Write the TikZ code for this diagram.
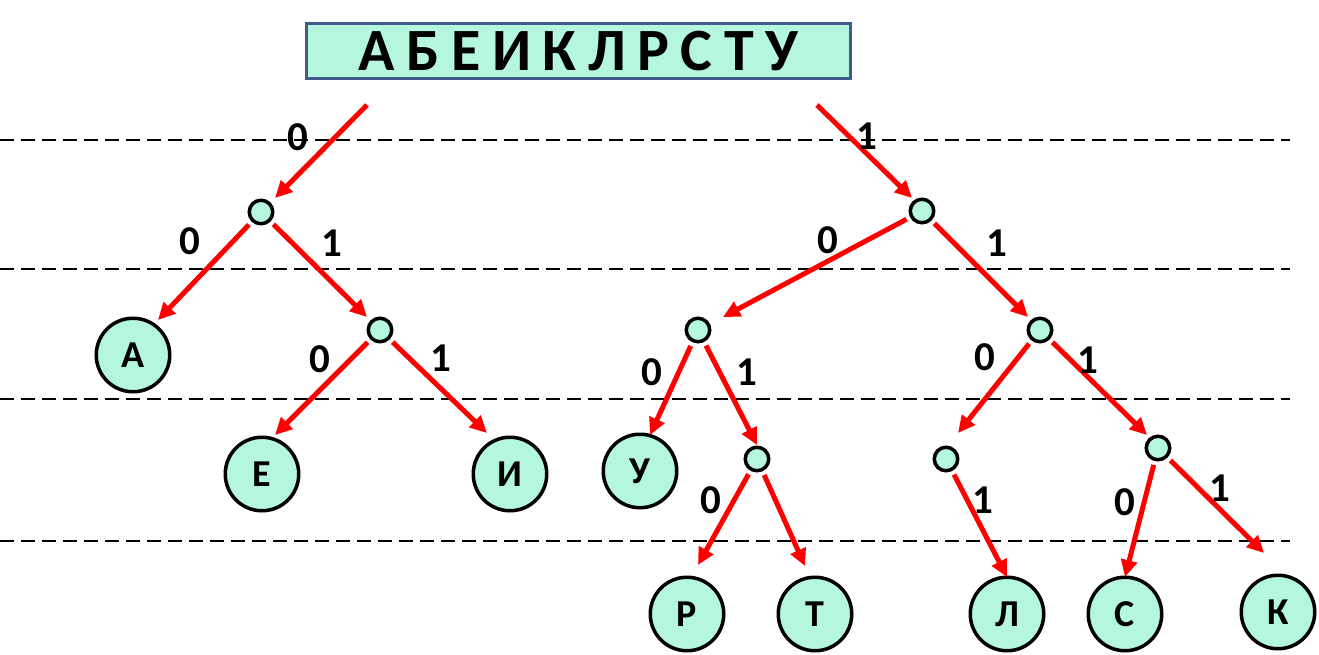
\documentclass[tikz,border=0pt]{standalone}
\usepackage{fontspec}
\newfontfamily\cf{Carlito}
\usetikzlibrary{arrows.meta,calc}
\definecolor{mint}{HTML}{B4F7DD}
\definecolor{frame}{HTML}{3E5C8C}
\definecolor{arrred}{HTML}{FF0000}
\newcommand{\tgap}{\hspace{11.5pt}}
\tikzset{
  guide/.style={draw=black,line width=2.2pt,dash pattern=on 14pt off 7pt},
  arr/.style={draw=arrred,line width=5pt,-{Triangle[length=17pt,width=16pt]}},
  fromnode/.style={shorten <=4pt},
  inner/.style={circle,draw=black,fill=mint,line width=3.5pt,minimum size=23.5pt,inner sep=0pt},
  leaf/.style={circle,draw=black,fill=mint,line width=3.5pt,minimum size=73.5pt,inner sep=0pt,font=\cf\bfseries\fontsize{38}{40}\selectfont},
  lbl/.style={font=\cf\bfseries\fontsize{41}{43}\selectfont,inner sep=0pt},
  titlebox/.style={draw=frame,fill=mint,line width=3.8pt,minimum width=544pt,minimum height=55pt,inner sep=0pt,font=\cf\bfseries\fontsize{60}{62}\selectfont}
}
\begin{document}
\begin{tikzpicture}[x=1pt,y=-1pt]
\useasboundingbox (0,0) rectangle (1319,655);
% guide lines
\draw[guide] (0,140) -- (1290,140);
\draw[guide] (0,269) -- (1290,269);
\draw[guide] (0,399) -- (1290,399);
\draw[guide] (0,541) -- (1290,541);
% title
\node[titlebox] (title) at (578.5,51) {А\tgap Б\tgap Е\tgap И\tgap К\tgap Л\tgap Р\tgap С\tgap Т\tgap У};
% internal nodes
\node[inner] (n0) at (261,212) {};
\node[inner] (n1) at (380,330) {};
\node[inner] (r) at (922,211) {};
\node[inner] (r0) at (698,330) {};
\node[inner] (r1) at (1040,330) {};
\node[inner] (r01) at (757,459) {};
\node[inner] (r10) at (946,459) {};
\node[inner] (r11) at (1158,448) {};
% leaves
\node[leaf] (A) at (133,355) {А};
\node[leaf] (E) at (262,474) {Е};
\node[leaf] (I) at (510,474) {И};
\node[leaf] (U) at (640,471) {У};
\node[leaf] (P) at (687,614) {Р};
\node[leaf] (T) at (815,614) {Т};
\node[leaf] (L) at (1007,614) {Л};
\node[leaf] (S) at (1125,614) {С};
\node[leaf] (K) at (1278,612) {К};
% start points under the title
\coordinate (tl) at (367,105);
\coordinate (tr) at (817,105);
% arrows
\draw[arr] (tl) -- ($(n0)+(14,-14)$);
\draw[arr] (tr) -- ($(r)+(-10,-13)$);
\draw[arr,fromnode] (n0) -- ($(A)+(25,-35)$);
\draw[arr,fromnode] (n0) -- ($(n1)+(-13,-13)$);
\draw[arr,fromnode] (n1) -- ($(E)+(13,-39)$);
\draw[arr,fromnode] (n1) -- ($(I)+(-23,-41)$);
\draw[arr,fromnode] (r) -- ($(r0)+(25,-13)$);
\draw[arr,fromnode] (r) -- ($(r1)+(-12,-13)$);
\draw[arr,fromnode] (r0) -- ($(U)+(10,-36)$);
\draw[arr,fromnode] (r0) -- ($(r01)+(0,-14)$);
\draw[arr,fromnode] (r01) -- ($(P)+(11,-49)$);
\draw[arr,fromnode] (r01) -- ($(T)+(-10,-48)$);
\draw[arr,fromnode] (r1) -- ($(r10)+(12,-26)$);
\draw[arr,fromnode] (r1) -- ($(r11)+(-11,-13)$);
\draw[arr,fromnode] (r10) -- ($(L)+(0,-37)$);
\draw[arr,fromnode] (r11) -- ($(S)+(0,-37)$);
\draw[arr,fromnode] (r11) -- ($(K)+(-14,-59)$);
% labels
\node[lbl] (l1) at (298,137) {0};
\node[lbl] (l2) at (867,136) {1};
\node[lbl] (l3) at (190,241) {0};
\node[lbl] (l4) at (332,243) {1};
\node[lbl] (l5) at (320,359) {0};
\node[lbl] (l6) at (441,358) {1};
\node[lbl] (l7) at (828,240) {0};
\node[lbl] (l8) at (997,243) {1};
\node[lbl] (l9) at (652,372) {0};
\node[lbl] (l10) at (747,372) {1};
\node[lbl] (l11) at (711,500) {0};
\node[lbl] (l12) at (985,357) {0};
\node[lbl] (l13) at (1088,360) {1};
\node[lbl] (l14) at (983,500) {1};
\node[lbl] (l15) at (1125,502) {0};
\node[lbl] (l16) at (1220,488) {1};
\end{tikzpicture}
\end{document}
